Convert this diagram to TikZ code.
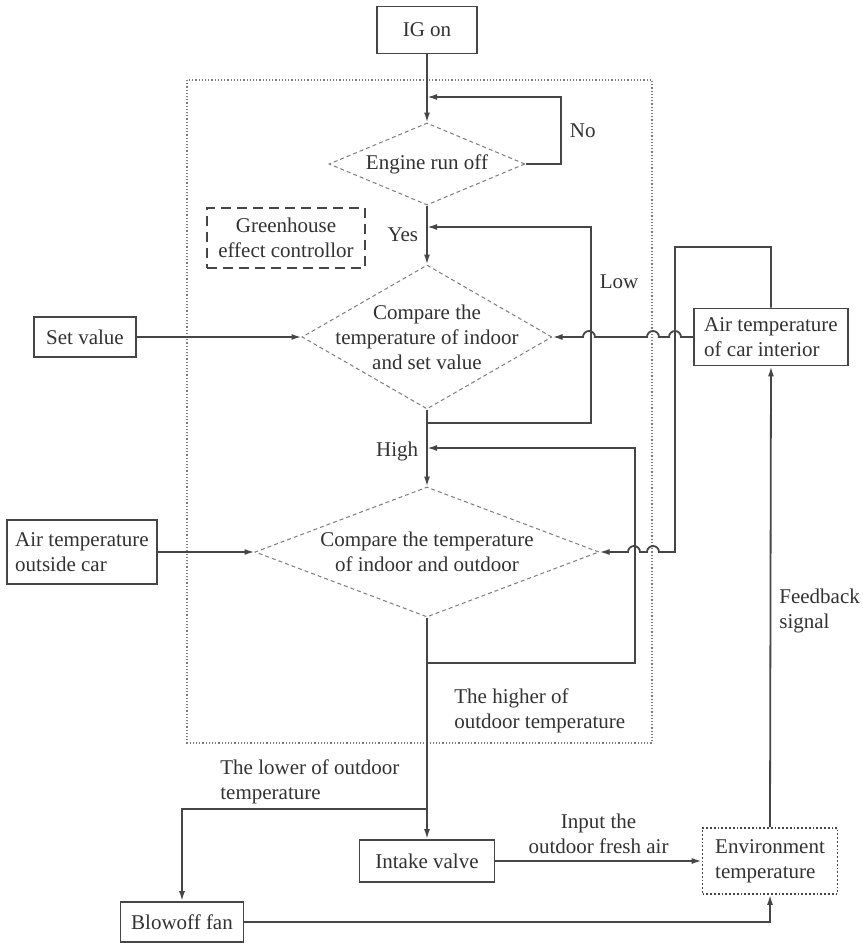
\documentclass[tikz,border=0pt]{standalone}
\usepackage{fontspec}
\setmainfont{Liberation Serif}
\usetikzlibrary{shapes.geometric,arrows.meta}
\definecolor{ink}{RGB}{70,70,70}
\definecolor{txt}{RGB}{50,50,50}
\definecolor{faint}{RGB}{125,125,125}

\begin{document}
\begin{tikzpicture}[x=0.5pt,y=-0.5pt,>={Latex[length=5pt,width=3pt]},font=\fontsize{10.5}{12.5}\selectfont,text=txt]
    \tikzstyle{block} = [rectangle,draw=ink,line width=0.9pt,fill=white,inner sep=2pt]
    \tikzstyle{decision} = [diamond,draw=faint,line width=0.5pt,dash pattern=on 2pt off 1.5pt,inner sep=0pt,fill=white]
    \tikzstyle{flow} = [draw=ink,line width=0.9pt,->]
    \tikzstyle{lbl} = [inner sep=1pt]
    \useasboundingbox (0,0) rectangle (863,949);
    % controller frame
    \draw[faint,line width=0.6pt,densely dotted] (187,80) rectangle (652,743);
    % boxes and decisions
    \node (ig)[block,minimum width=50pt,minimum height=23.5pt] at (427,30) {IG on};
    \node (engine)[decision,minimum width=98pt,minimum height=41pt,label={[name=enginetxt]center:Engine run off}] at (427,164) {};
    \node (cmpset)[decision,minimum width=125pt,minimum height=72pt,label={[name=cmpsettxt,align=center]center:Compare the\\temperature of indoor\\and set value}] at (427,337) {};
    \node (cmpout)[decision,minimum width=172pt,minimum height=65pt,label={[name=cmpouttxt,align=center]center:Compare the temperature\\of indoor and outdoor}] at (427,552) {};
    \node (greenhouse)[block,dash pattern=on 5pt off 3pt,align=center,minimum width=79pt,minimum height=30pt] at (286,238) {Greenhouse\\effect controllor};
    \node (setval)[block,minimum width=51pt,minimum height=20pt] at (85,337) {Set value};
    \node (outside)[block,align=left,minimum width=75pt,minimum height=32pt] at (82,552) {Air temperature\\outside car};
    \node (interior)[block,align=left,minimum width=77pt,minimum height=28.5pt] at (771,337) {Air temperature\\of car interior};
    \node (intake)[block,minimum width=67.5pt,minimum height=21pt] at (427,861) {Intake valve};
    \node (fan)[block,minimum width=61.5pt,minimum height=20pt] at (182,922) {Blowoff fan};
    \node (env)[block,densely dotted,line width=0.8pt,align=left,minimum width=67.5pt,minimum height=33pt] at (770,861) {Environment\\temperature};
    % main flow
    \draw[flow] (ig.south) -- (engine.north);
    \draw[flow] (engine.east) -| node[lbl,pos=0.75,right=3pt](nolbl){No} (561,97) -- (engine.north |- 561,97);
    \draw[flow] (engine.south) -- node[lbl,pos=0.5,left=3pt](yeslbl){Yes} (cmpset.north);
    \draw[flow] (cmpset.south |- 0,423) -| node[lbl,pos=0.86,right=3pt](lowlbl){Low} (591,227) -- (engine.south |- 0,227);
    \draw[flow] (cmpset.south) -- node[lbl,pos=0.55,left=3pt](highlbl){High} (cmpout.north);
    \draw[flow] (cmpout.south |- 0,663) -| (635,448) -- (cmpset.south |- 0,448);
    \draw[flow] (setval.east) -- (cmpset.west);
    \draw[flow] (outside.east) -- (cmpout.west);
    % interior temperature with line hops
    \draw[flow] (interior.west) -- (681,337) arc[start angle=0,end angle=180,radius=3pt] -- (659,337) arc[start angle=0,end angle=180,radius=3pt] -- (595,337) arc[start angle=0,end angle=180,radius=3pt] -- (cmpset.east);
    \draw[flow] (interior.north) |- (675,247) -- (675,552) -- (659,552) arc[start angle=0,end angle=180,radius=3pt] -- (640,552) arc[start angle=0,end angle=180,radius=3pt] -- (cmpout.east);
    % outputs
    \draw[flow] (cmpout.south) -- (intake.north);
    \node (higherlbl)[lbl,anchor=west,align=left] at (452,711) {The higher of\\outdoor temperature};
    \draw[flow] (cmpout.south |- 0,809) -| (fan.north);
    \node (lowerlbl)[lbl,anchor=west,align=left] at (218,782) {The lower of outdoor\\temperature};
    \draw[flow] (intake.east) -- node[lbl,above=2pt,align=center](freshlbl){Input the\\outdoor fresh air} (env.west);
    \draw[flow] (fan.east) -| (env.south);
    \draw[flow] (env.north) -- node[lbl,pos=0.47,right=3pt,align=left](fblbl){Feedback\\signal} (interior.south);
\end{tikzpicture}
\end{document}
